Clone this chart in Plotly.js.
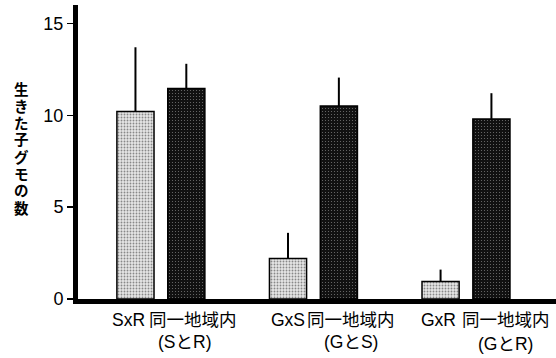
<!DOCTYPE html>
<html><head><meta charset="utf-8">
<script src="https://cdn.plot.ly/plotly-3.0.1.min.js"></script>
<style>html,body{margin:0;padding:0;background:#fff;}#chart{width:556px;height:358px;}</style>
</head><body><div id="chart"></div>
<script>
// Data
const categories = ["SxR", "同一地域内<br>(SとR)", " ", "GxS", "同一地域内<br>(GとS)", "  ", "GxR", "同一地域内<br>(GとR)"];
const crossCats = ["SxR", "GxS", "GxR"];
const sameCats = ["同一地域内<br>(SとR)", "同一地域内<br>(GとS)", "同一地域内<br>(GとR)"];
const crossValues = [10.2, 2.2, 0.95];
const crossErrors = [3.5, 1.4, 0.65];
const sameValues = [11.45, 10.5, 9.8];
const sameErrors = [1.35, 1.55, 1.4];
const yTickVals = [0, 5, 10, 15];
const yTitle = "生きた子グモの数";

// Label placement (layout only)
const crossShift = [-7, 0, -2];
const sameShift1 = [7, 12, 15];
const sameShift2 = [-2, 12, 14];

const latin = "Liberation Sans, Arial, Noto Sans CJK JP, sans-serif";

const traces = [
  {
    type: "bar", x: crossCats, y: crossValues,
    marker: {color: "#d4d4d4", line: {color: "#000", width: 1.5},
      pattern: {shape: ".", size: 3, solidity: 0.3, fgcolor: "#888", bgcolor: "#e6e6e6", fillmode: "replace"}},
    error_y: {type: "data", symmetric: false, array: crossErrors, arrayminus: [0,0,0], color: "#000", thickness: 2, width: 0},
    hoverinfo: "none"
  },
  {
    type: "bar", x: sameCats, y: sameValues,
    marker: {color: "#151515", line: {color: "#000", width: 1.5},
      pattern: {shape: ".", size: 3, solidity: 0.1, fgcolor: "#7a7a7a", bgcolor: "#111", fillmode: "replace"}},
    error_y: {type: "data", symmetric: false, array: sameErrors, arrayminus: [0,0,0], color: "#000", thickness: 2, width: 0},
    hoverinfo: "none"
  }
];

const PL = 78, PB = 299;
const annotations = [];
Array.from(yTitle).forEach((ch, i) => {
  const py = 88 + 17 * i;
  annotations.push({
    text: ch, xref: "paper", yref: "paper",
    x: (21 - PL) / (556 - PL), y: (PB - py) / (PB - 5),
    xanchor: "center", yanchor: "middle", showarrow: false, borderpad: 0,
    font: {family: "Noto Sans CJK JP, sans-serif", size: 14.5, color: "#000", weight: "bold"}
  });
});
const labFont = {family: latin, size: 17.5, color: "#000"};
crossCats.forEach((c, i) => {
  annotations.push({text: c, xref: "x", yref: "paper", x: c, y: 0, xanchor: "center", yanchor: "middle",
    xshift: crossShift[i], yshift: -21, showarrow: false, font: labFont});
});
sameCats.forEach((c, i) => {
  const parts = c.split("<br>");
  annotations.push({text: parts[0], xref: "x", yref: "paper", x: c, y: 0, xanchor: "center", yanchor: "middle",
    xshift: sameShift1[i], yshift: -21, showarrow: false, font: labFont});
  annotations.push({text: parts[1], xref: "x", yref: "paper", x: c, y: 0, xanchor: "center", yanchor: "middle",
    xshift: sameShift2[i], yshift: i === 2 ? -45 : -43, showarrow: false, font: labFont});
});

const layout = {
  width: 556, height: 358,
  margin: {l: PL, r: 0, t: 5, b: 358 - PB},
  paper_bgcolor: "#fff", plot_bgcolor: "#fff",
  showlegend: false,
  barmode: "overlay",
  bargap: 0.27,
  xaxis: {
    type: "category", categoryorder: "array", categoryarray: categories,
    range: [-1.13, 8.27],
    showline: true, linecolor: "#000", linewidth: 5,
    ticks: "", showgrid: false, zeroline: false,
    showticklabels: false, automargin: false,
    fixedrange: true
  },
  yaxis: {
    range: [0, 16],
    tickvals: yTickVals,
    showline: true, linecolor: "#000", linewidth: 5,
    ticks: "outside", ticklen: 6, tickwidth: 1.5, tickcolor: "#000",
    showgrid: false, zeroline: false,
    tickfont: {family: latin, size: 18, color: "#000"},
    automargin: false,
    fixedrange: true
  },
  annotations: annotations
};

Plotly.newPlot("chart", traces, layout, {displayModeBar: false, staticPlot: true});
</script>
</body></html>
